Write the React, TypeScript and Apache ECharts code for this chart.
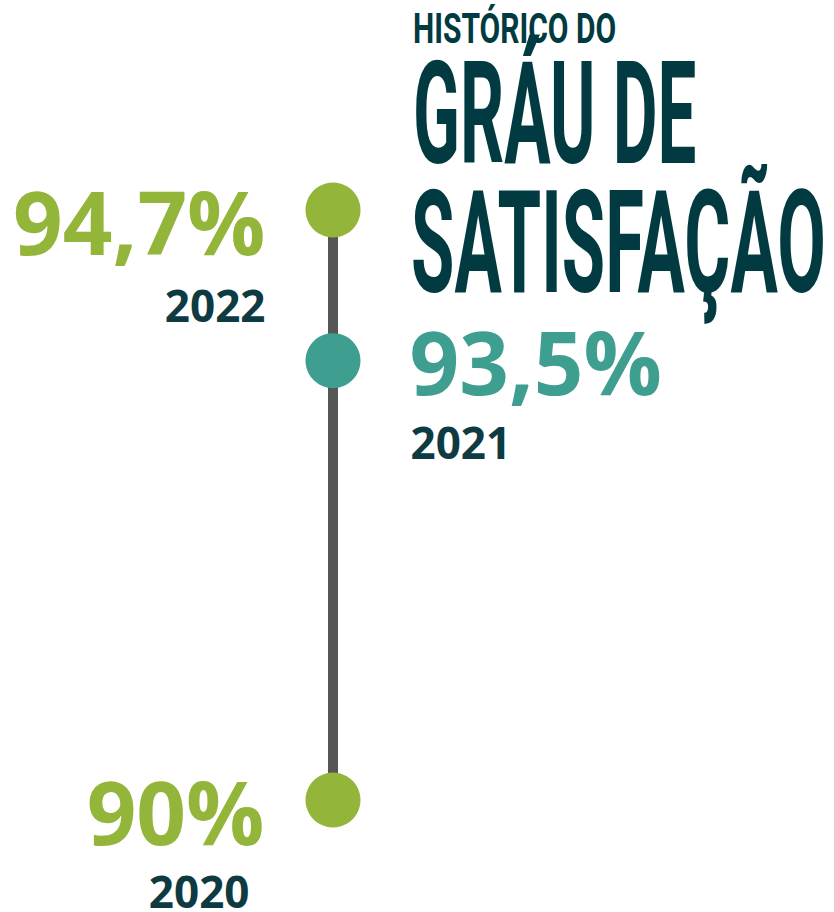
import React, { useEffect, useRef } from "react";
import * as echarts from "echarts";

// ---- data ----
const years = ["2022", "2021", "2020"];
const values = [94.7, 93.5, 90];
const titleLines = ["HISTÓRICO DO", "GRÁU DE", "SATISFAÇÃO"];

// ---- styles ----
const dotColors = ["#93B53A", "#3E9E8F", "#93B53A"];
const titleColor = "#013B41";
const yearColor = "#0E3A42";
const lineColor = "#555555";

const fmtValue = (v: number) => String(v).replace(".", ",") + "%";

export default function App() {
  const ref = useRef<HTMLDivElement>(null);
  useEffect(() => {
    document.body.style.margin = "0";
    const chart = echarts.init(ref.current!, null, { renderer: "svg" });

    const valueLabelCfg = [
      { position: "left", distance: 40, offset: [0, 11] },
      { position: "right", distance: 49, offset: [0, 0] },
      { position: "left", distance: 41, offset: [0, 11] },
    ];
    const yearLabelCfg = [
      { position: "left", distance: 40, offset: [0, 95] },
      { position: "right", distance: 50, offset: [0, 81] },
      { position: "left", distance: 56, offset: [0, 91] },
    ];

    const titleCfg = [
      { x: 413, y: 29, fontSize: 30, scaleX: 1.0, scaleY: 1.4 },
      { x: 413, y: 114, fontSize: 100, scaleX: 0.69, scaleY: 1.43 },
      { x: 411, y: 243, fontSize: 100, scaleX: 0.705, scaleY: 1.43 },
    ];

    chart.setOption({
      animation: false,
      grid: { left: 233, right: 401, top: 21.7, bottom: 49.23 },
      xAxis: { type: "value", min: -1, max: 1, show: false },
      yAxis: { type: "value", min: 89.5, max: 96.2, show: false },
      graphic: titleLines.map((t, i) => ({
        type: "text",
        x: titleCfg[i].x,
        y: titleCfg[i].y,
        scaleX: titleCfg[i].scaleX,
        scaleY: titleCfg[i].scaleY,
        style: {
          text: t,
          fill: titleColor,
          fontFamily: "Roboto",
          fontWeight: "bold",
          fontSize: titleCfg[i].fontSize,
          align: "left",
          verticalAlign: "middle",
        },
      })),
      series: [
        {
          type: "line",
          data: values.map((v) => [0, v]),
          symbol: "none",
          lineStyle: { color: lineColor, width: 10 },
          z: 1,
        },
        {
          type: "scatter",
          z: 3,
          symbolSize: 55,
          data: values.map((v, i) => ({
            value: [0, v],
            itemStyle: { color: dotColors[i], opacity: 1 },
            label: {
              show: true,
              position: valueLabelCfg[i].position,
              distance: valueLabelCfg[i].distance,
              offset: valueLabelCfg[i].offset,
              formatter: fmtValue(v),
              color: dotColors[i],
              fontFamily: "Open Sans",
              fontWeight: "bold",
              fontSize: 87,
              lineHeight: 66,
              align: valueLabelCfg[i].position === "left" ? "right" : "left",
              verticalAlign: "middle",
            },
          })),
        },
        {
          type: "scatter",
          z: 2,
          symbolSize: 55,
          silent: true,
          data: values.map((v, i) => ({
            value: [0, v],
            itemStyle: { color: "rgba(0,0,0,0)", opacity: 1 },
            label: {
              show: true,
              position: yearLabelCfg[i].position,
              distance: yearLabelCfg[i].distance,
              offset: yearLabelCfg[i].offset,
              formatter: years[i],
              color: yearColor,
              opacity: 1,
              fontFamily: "Open Sans",
              fontWeight: "bold",
              fontSize: 44,
              lineHeight: 32,
              align: yearLabelCfg[i].position === "left" ? "right" : "left",
              verticalAlign: "middle",
            },
          })),
        },
      ],
    });
    return () => chart.dispose();
  }, []);
  return <div ref={ref} style={{ width: 834, height: 912 }} />;
}
